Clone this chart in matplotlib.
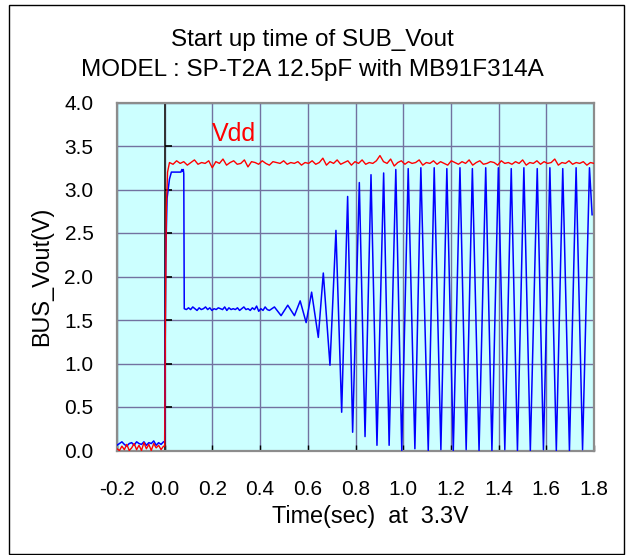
import numpy as np
import matplotlib.pyplot as plt
from matplotlib.patches import Rectangle
from matplotlib.markers import TICKRIGHT

plt.rcParams['font.family'] = ['Liberation Sans', 'DejaVu Sans']

# --- data ---
x_ticks = [-0.2, 0.0, 0.2, 0.4, 0.6, 0.8, 1.0, 1.2, 1.4, 1.6, 1.8]
y_ticks = [0.0, 0.5, 1.0, 1.5, 2.0, 2.5, 3.0, 3.5, 4.0]

# before power on (t = -0.2 .. 0)
pre_bus = [0.06, 0.08, 0.10, 0.07, 0.05, 0.08, 0.09, 0.06, 0.10, 0.08,
           0.07, 0.10, 0.06, 0.09, 0.08, 0.11, 0.06, 0.09, 0.07, 0.10]
pre_vdd = [0.02, 0.00, 0.05, 0.01, 0.07, 0.00, 0.03, 0.08, 0.01, 0.06,
           0.00, 0.09, 0.02, 0.07, 0.00, 0.08, 0.03, 0.06, 0.01, 0.05]

# Vdd rise
rise_vdd_t = [0.0, 0.003, 0.007, 0.012]
rise_vdd = [0.05, 1.5, 2.8, 3.2]

# Vdd after rise, 0.02 .. 1.8 s
vdd_vals = [3.31, 3.29, 3.33, 3.30, 3.32, 3.28, 3.31, 3.34, 3.29, 3.31,
            3.30, 3.33, 3.25, 3.32, 3.30, 3.35, 3.28, 3.31, 3.33, 3.29,
            3.30, 3.34, 3.26, 3.32, 3.31, 3.29, 3.33, 3.30, 3.28, 3.32,
            3.31, 3.30, 3.33, 3.29, 3.31, 3.30, 3.32, 3.28, 3.31, 3.30,
            3.33, 3.29, 3.31, 3.36, 3.28, 3.32, 3.30, 3.34, 3.29, 3.31,
            3.33, 3.28, 3.32, 3.30, 3.34, 3.29, 3.31, 3.30, 3.33, 3.39,
            3.32, 3.30, 3.35, 3.27, 3.31, 3.33, 3.29, 3.32, 3.30, 3.31,
            3.34, 3.28, 3.31, 3.30, 3.33, 3.29, 3.32, 3.30, 3.28, 3.33,
            3.31, 3.29, 3.32, 3.30, 3.34, 3.28, 3.31, 3.33, 3.29, 3.30,
            3.32, 3.31, 3.28, 3.33, 3.30, 3.31, 3.29, 3.32, 3.30, 3.34,
            3.28, 3.31, 3.30, 3.33, 3.29, 3.32, 3.30, 3.31, 3.35, 3.28,
            3.31, 3.30, 3.33, 3.29, 3.31, 3.30, 3.32, 3.28, 3.31, 3.30]

# BUS_Vout rise and first plateau
rise_bus_t = [0.0, 0.004, 0.010, 0.020, 0.028, 0.068, 0.072, 0.076, 0.078, 0.080]
rise_bus = [0.10, 2.20, 2.90, 3.12, 3.20, 3.20, 3.23, 3.21, 3.23, 3.18]

# BUS_Vout middle level 0.082 .. 0.43 s
mid_bus = [1.63, 1.62, 1.64, 1.62, 1.65, 1.63, 1.61, 1.64, 1.62, 1.63,
           1.65, 1.62, 1.64, 1.61, 1.63, 1.62, 1.64, 1.63, 1.62, 1.65,
           1.61, 1.64, 1.62, 1.63, 1.62, 1.64, 1.61, 1.63, 1.65, 1.62,
           1.63, 1.61, 1.64, 1.62, 1.66, 1.60, 1.63, 1.61, 1.65, 1.62]

# BUS_Vout oscillation start-up (peaks and troughs)
osc_t = [0.439, 0.460, 0.488, 0.516, 0.544, 0.568, 0.593, 0.616, 0.644, 0.665,
         0.693, 0.718, 0.742, 0.767, 0.788, 0.816, 0.840, 0.865, 0.890, 0.918,
         0.941, 0.969, 0.994, 1.021, 1.049, 1.074, 1.105, 1.130, 1.158, 1.183,
         1.210, 1.238, 1.264, 1.290, 1.318, 1.346, 1.372, 1.399, 1.426, 1.453,
         1.479, 1.506, 1.533, 1.562, 1.588, 1.615, 1.642, 1.669, 1.697, 1.725,
         1.752, 1.781, 1.792]
osc_v = [1.61, 1.65, 1.55, 1.67, 1.55, 1.72, 1.47, 1.82, 1.30, 2.04,
         0.98, 2.53, 0.44, 2.92, 0.21, 3.08, 0.16, 3.17, 0.06, 3.19,
         0.06, 3.23, 0.00, 3.24, 0.02, 3.25, 0.00, 3.25, 0.01, 3.24,
         0.00, 3.25, 0.01, 3.24, 0.00, 3.25, 0.00, 3.25, 0.01, 3.24,
         0.00, 3.25, 0.00, 3.24, 0.01, 3.25, 0.00, 3.24, 0.00, 3.25,
         0.01, 3.25, 2.71]

# --- assemble series ---
pre_t = np.linspace(-0.2, -0.005, len(pre_bus))
vdd_t = np.linspace(0.02, 1.8, len(vdd_vals))
mid_t = np.linspace(0.082, 0.43, len(mid_bus))

vdd_x = np.concatenate([pre_t, rise_vdd_t, vdd_t])
vdd_y = np.concatenate([pre_vdd, rise_vdd, vdd_vals])
bus_x = np.concatenate([pre_t, rise_bus_t, mid_t, osc_t])
bus_y = np.concatenate([pre_bus, rise_bus, mid_bus, osc_v])

fig = plt.figure(figsize=(6.29, 5.55), dpi=100)
fig.patch.set_facecolor('white')
fig.add_artist(Rectangle((9 / 629, 1 / 555), 615 / 629, 549 / 555,
                         transform=fig.transFigure, fill=False,
                         edgecolor='black', linewidth=1.0))

ax = fig.add_axes([117 / 629, 1 - 450.5 / 555, 477 / 629, 348 / 555])
ax.set_facecolor('#ccffff')

ax.set_xlim(-0.2, 1.8)
ax.set_ylim(0.0, 4.0)
ax.set_xticks(x_ticks)
ax.set_yticks(y_ticks)
ax.set_xticklabels([f"{v:.1f}" for v in x_ticks])
ax.set_yticklabels([f"{v:.1f}" for v in y_ticks])
ax.grid(True, color='#7272a0', linewidth=1.0)
ax.set_axisbelow(True)

for s in ax.spines.values():
    s.set_color('#8c8c8c')
    s.set_linewidth(1.6)

ax.tick_params(axis='y', length=0, pad=17, labelsize=15)
ax.tick_params(axis='x', direction='in', length=4, width=1, color='black',
               pad=21, labelsize=15)

# y axis drawn at t = 0 with ticks
ax.axvline(0, color='#303030', linewidth=1.4, zorder=2)
ax.plot(np.zeros(len(y_ticks)), y_ticks, linestyle='none', marker=TICKRIGHT,
        markersize=5, markeredgewidth=1.2, color='black', zorder=2,
        clip_on=False)

ax.plot(bus_x, bus_y, color='#0000ff', linewidth=1.1, zorder=3)
ax.plot(vdd_x, vdd_y, color='#ff0000', linewidth=1.0, zorder=4)

ax.text(0.29, 3.64, 'Vdd', color='#ff0000', fontsize=18, ha='center', va='center')

fig.text(312 / 629, 1 - 40 / 555, 'Start up time of SUB_Vout',
         ha='center', va='center', fontsize=17.5)
fig.text(312 / 629, 1 - 70 / 555, 'MODEL : SP-T2A 12.5pF with MB91F314A',
         ha='center', va='center', fontsize=17.5)
fig.text(42 / 629, 1 - 276 / 555, 'BUS_Vout(V)', rotation=90,
         ha='center', va='center', fontsize=16.8)
fig.text(370 / 629, 1 - 516 / 555, 'Time(sec)  at  3.3V',
         ha='center', va='center', fontsize=16.8)

fig.savefig('out.png', dpi=100)
